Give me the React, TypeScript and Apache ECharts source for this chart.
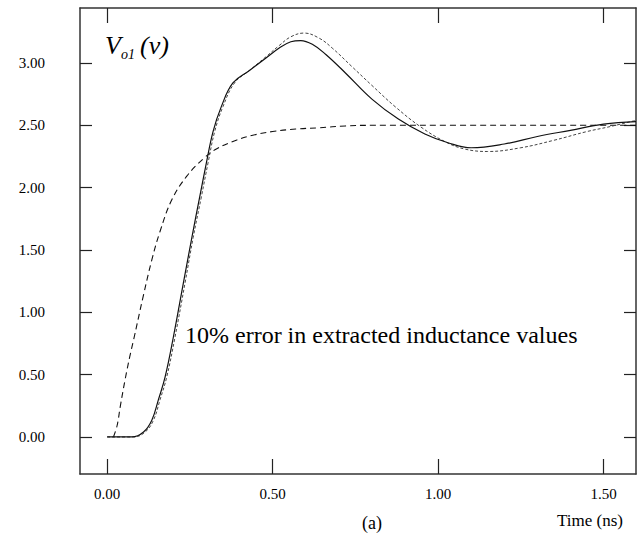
import React, { useEffect, useRef } from "react";
import * as echarts from "echarts";

// Tick values
const xTicks = [0, 0.5, 1.0, 1.5];
const yTicks = [0, 0.5, 1.0, 1.5, 2.0, 2.5, 3.0];

// Solid curve
const tSolid = [0, 0.075, 0.11, 0.135, 0.155, 0.175, 0.2, 0.23, 0.256, 0.28, 0.3, 0.32, 0.345, 0.38, 0.43, 0.48, 0.52, 0.555, 0.585, 0.62, 0.66, 0.72, 0.8, 0.88, 0.96, 1.03, 1.1, 1.2, 1.3, 1.4, 1.5, 1.598];
const vSolid = [0, 0, 0.04, 0.135, 0.3, 0.48, 0.8, 1.23, 1.6, 1.93, 2.2, 2.45, 2.65, 2.84, 2.94, 3.04, 3.12, 3.17, 3.18, 3.15, 3.07, 2.92, 2.71, 2.55, 2.43, 2.36, 2.32, 2.35, 2.41, 2.46, 2.51, 2.53];

// Fine-dashed curve (10% inductance error)
const tDotted = [0, 0.08, 0.115, 0.14, 0.16, 0.18, 0.205, 0.235, 0.26, 0.285, 0.305, 0.325, 0.35, 0.385, 0.43, 0.48, 0.52, 0.555, 0.595, 0.64, 0.68, 0.74, 0.8, 0.87, 0.946, 1.02, 1.08, 1.15, 1.25, 1.35, 1.45, 1.52, 1.598];
const vDotted = [0, 0, 0.04, 0.135, 0.3, 0.48, 0.8, 1.23, 1.6, 1.93, 2.2, 2.45, 2.65, 2.84, 2.94, 3.05, 3.14, 3.21, 3.24, 3.2, 3.12, 2.97, 2.82, 2.65, 2.49, 2.37, 2.31, 2.29, 2.32, 2.38, 2.45, 2.49, 2.54];

// Long-dashed curve
const tDashed = [0.019, 0.03, 0.04, 0.055, 0.068, 0.08, 0.11, 0.135, 0.16, 0.195, 0.24, 0.29, 0.33, 0.39, 0.44, 0.5, 0.57, 0.64, 0.72, 0.8, 1.598];
const vDashed = [0, 0.09, 0.25, 0.47, 0.64, 0.78, 1.14, 1.42, 1.65, 1.9, 2.09, 2.23, 2.31, 2.38, 2.42, 2.45, 2.47, 2.48, 2.495, 2.5, 2.5];

const FAMILY = "Liberation Serif";

const pairs = (t: number[], v: number[]) => t.map((x, i) => [x, v[i]]);

export default function App() {
  const ref = useRef<HTMLDivElement>(null);
  useEffect(() => {
    if (!ref.current) return;
    const chart = echarts.init(ref.current, undefined, { renderer: "svg" });
    const axisLine = { show: true, onZero: false, lineStyle: { color: "#333", width: 1.5 } };
    const xRange = { min: -0.082, max: 1.598 };
    const yRange = { min: -0.297, max: 3.441 };
    const tick = (len: number, vals: number[]) => ({
      show: true,
      inside: true,
      length: len,
      customValues: vals,
      lineStyle: { color: "#222", width: 1.2 },
    });
    const lbl = {
      fontFamily: FAMILY,
      fontSize: 15,
      color: "#000",
      formatter: (v: number) => v.toFixed(2),
    };
    const txt = (x: number, y: number, text: string, size: number, italic = false, align = "left") => ({
      type: "text",
      x,
      y,
      style: {
        text,
        fontFamily: FAMILY,
        fontSize: size,
        fontStyle: italic ? "italic" : "normal",
        fill: "#000",
        textAlign: align,
        textVerticalAlign: "middle",
      },
    });
    chart.setOption({
      animation: false,
      backgroundColor: "#fff",
      grid: { left: 80, right: 5, top: 8, bottom: 67 },
      xAxis: [
        {
          type: "value",
          position: "bottom",
          ...xRange,
          axisLine,
          splitLine: { show: false },
          axisTick: tick(15, xTicks),
          axisLabel: { ...lbl, margin: 12, customValues: xTicks },
        },
        {
          type: "value",
          position: "top",
          ...xRange,
          axisLine,
          splitLine: { show: false },
          axisTick: tick(15, xTicks),
          axisLabel: { show: false },
        },
      ],
      yAxis: [
        {
          type: "value",
          position: "left",
          ...yRange,
          axisLine,
          splitLine: { show: false },
          axisTick: tick(12, yTicks),
          axisLabel: { ...lbl, margin: 35, customValues: yTicks },
        },
        {
          type: "value",
          position: "right",
          ...yRange,
          axisLine,
          splitLine: { show: false },
          axisTick: tick(12, yTicks),
          axisLabel: { show: false },
        },
      ],
      series: [
        {
          type: "line",
          data: pairs(tDashed, vDashed),
          showSymbol: false,
          smooth: 0.4,
          lineStyle: { color: "#111", width: 1.1, type: [6, 4] },
        },
        {
          type: "line",
          data: pairs(tDotted, vDotted),
          showSymbol: false,
          smooth: 0.4,
          lineStyle: { color: "#444", width: 1, type: [3, 2] },
        },
        {
          type: "line",
          data: pairs(tSolid, vSolid),
          showSymbol: false,
          smooth: 0.4,
          lineStyle: { color: "#111", width: 1.2 },
        },
      ],
      graphic: [
        txt(105, 45, "V", 26, true),
        txt(121, 54, "o1", 14, true),
        txt(140, 45, "(v)", 26, true),
        txt(185, 335, "10% error in extracted inductance values", 24),
        txt(372, 523, "(a)", 18, false, "center"),
        txt(590, 520, "Time (ns)", 17, false, "center"),
      ],
    });
    return () => chart.dispose();
  }, []);
  return (
    <div
      ref={ref}
      style={{ position: "absolute", left: 0, top: 0, width: 641, height: 541, background: "#fff" }}
    />
  );
}
